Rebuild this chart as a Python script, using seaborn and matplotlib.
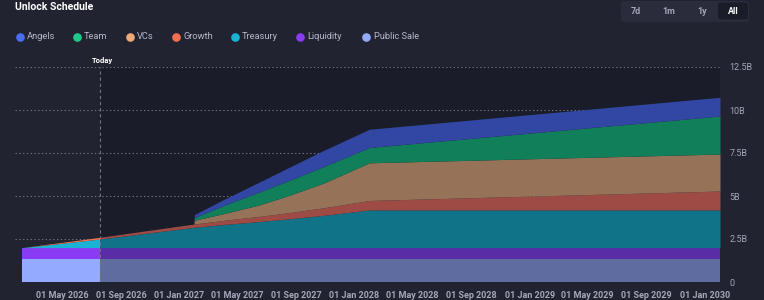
import pandas as pd
import seaborn as sns
import matplotlib.pyplot as plt
import matplotlib.dates as mdates
from matplotlib.lines import Line2D
from matplotlib.patches import FancyBboxPatch

# unlock schedule, values in billions of tokens
dates = ["2026-02-07", "2026-07-19", "2027-01-31", "2027-02-01", "2027-04-05",
         "2027-06-15", "2027-08-20", "2027-10-30", "2028-02-01", "2030-02-01"]
public_sale = [1.34, 1.34, 1.34, 1.34, 1.34, 1.34, 1.34, 1.34, 1.34, 1.34]
liquidity = [0.66, 0.66, 0.66, 0.66, 0.66, 0.66, 0.66, 0.66, 0.66, 0.66]
treasury = [0.0, 0.50, 1.18, 1.18, 1.35, 1.51, 1.68, 1.88, 2.19, 2.19]
growth = [0.0, 0.10, 0.19, 0.19, 0.24, 0.30, 0.36, 0.44, 0.55, 1.10]
vcs = [0.0, 0.0, 0.0, 0.22, 0.40, 0.66, 1.02, 1.45, 2.19, 2.15]
team = [0.0, 0.0, 0.0, 0.16, 0.48, 0.75, 0.87, 0.96, 0.89, 2.21]
angels = [0.0, 0.0, 0.0, 0.17, 0.35, 0.57, 0.77, 0.94, 1.06, 1.09]

series = ["Public Sale", "Liquidity", "Treasury", "Growth", "VCs", "Team", "Angels"]
legend_order = ["Angels", "Team", "VCs", "Growth", "Treasury", "Liquidity", "Public Sale"]
today = "2026-07-19"

colors = {
    "Angels": "#4a6cf7",
    "Team": "#1ec98a",
    "VCs": "#f0a878",
    "Growth": "#f07050",
    "Treasury": "#1ab3d4",
    "Liquidity": "#8a3cf5",
    "Public Sale": "#93aaff",
}
# muted tones used after "today"
future_colors = {
    "Angels": "#3247a3",
    "Team": "#117f5a",
    "VCs": "#967358",
    "Growth": "#9e4b46",
    "Treasury": "#107387",
    "Liquidity": "#582da5",
    "Public Sale": "#5f6ca0",
}

df = pd.DataFrame({
    "date": pd.to_datetime(dates),
    "Public Sale": public_sale,
    "Liquidity": liquidity,
    "Treasury": treasury,
    "Growth": growth,
    "VCs": vcs,
    "Team": team,
    "Angels": angels,
})

outer_bg = "#212330"
future_bg = "#1a1d29"
grid_col = "#6e7283"
text_col = "#a3a7b8"

sns.set_theme(style="dark", rc={
    "figure.facecolor": outer_bg,
    "axes.facecolor": outer_bg,
})
plt.rcParams["font.family"] = ["Roboto", "DejaVu Sans"]

fig = plt.figure(figsize=(7.64, 3.0), dpi=100)
ax = fig.add_axes([15 / 764, 18 / 300, 705 / 764, 215 / 300])

today_ts = pd.Timestamp(today)
start = pd.Timestamp("2026-01-23")
end = df["date"].iloc[-1]

# future region is darker
ax.axvspan(today_ts, end, color=future_bg, zorder=0, lw=0)

for yv in [0, 2.5, 5, 7.5, 10, 12.5]:
    ax.axhline(yv, color=grid_col, lw=0.8, ls=(0, (1.2, 2.2)), zorder=1)

past = df[df["date"] <= today_ts]
future = df[df["date"] >= today_ts]

ax.stackplot(past["date"], [past[s] for s in series],
             colors=[colors[s] for s in series], lw=0, zorder=2)
ax.stackplot(future["date"], [future[s] for s in series],
             colors=[future_colors[s] for s in series], lw=0, zorder=2)

ax.axvline(today_ts, color=grid_col, lw=0.8, ls=(0, (3, 2.5)), zorder=3)
ax.annotate("Today", xy=(today_ts, 12.5), xytext=(-6, 2), textcoords="offset points",
            ha="left", va="bottom", color="white", fontsize=5.5, fontweight="bold",
            annotation_clip=False)

ax.set_xlim(start, end)
ax.set_ylim(0, 12.5)
for sp in ax.spines.values():
    sp.set_visible(False)

ax.yaxis.tick_right()
ax.set_yticks([0, 2.5, 5, 7.5, 10, 12.5])
ax.set_yticklabels(["0", "2.5B", "5B", "7.5B", "10B", "12.5B"])
ax.xaxis.set_major_locator(mdates.MonthLocator(bymonth=[1, 5, 9]))
ax.xaxis.set_major_formatter(mdates.DateFormatter("%d %b %Y"))
ax.tick_params(axis="y", length=0, pad=7, labelsize=6.5, labelcolor=text_col)
ax.tick_params(axis="x", length=0, pad=6.5, labelsize=6.5, labelcolor=text_col)
for lab in ax.get_xticklabels():
    lab.set_fontweight("bold")
ax.set_xlabel("")
ax.set_ylabel("")
ax.grid(False)

# title
fig.text(15 / 764, 1 - 7 / 300, "Unlock Schedule", color="white", fontsize=7.5,
         fontweight="bold", ha="left", va="center")

# legend row
legend_x = [19.5, 76.5, 129.5, 175.5, 234.5, 299.5, 366]
for name, lx in zip(legend_order, legend_x):
    fig.add_artist(Line2D([lx / 764], [1 - 36.7 / 300], marker="o", ms=5.2, lw=0,
                          color=colors[name], transform=fig.transFigure))
    fig.text((lx + 7.5) / 764, 1 - 36.7 / 300, name, color="#b5b9c8", fontsize=6.7,
             ha="left", va="center")

# range buttons
fig.add_artist(FancyBboxPatch((621 / 764, 1 - 22 / 300), 128 / 764, 21 / 300,
                              boxstyle="round,pad=0,rounding_size=0.008",
                              transform=fig.transFigure, fc="#2a2c3b", ec="none"))
fig.add_artist(FancyBboxPatch((718 / 764, 1 - 19.5 / 300), 30 / 764, 17 / 300,
                              boxstyle="round,pad=0,rounding_size=0.006",
                              transform=fig.transFigure, fc="#1a1c27", ec="none"))
for lbl, bx, col in [("7d", 636, "#a3a7b8"), ("1m", 669, "#a3a7b8"),
                     ("1y", 702, "#a3a7b8"), ("All", 733, "white")]:
    fig.text(bx / 764, 1 - 11.5 / 300, lbl, color=col, fontsize=6.5,
             fontweight="bold", ha="center", va="center")

fig.savefig("out.png", dpi=100, facecolor=outer_bg)
